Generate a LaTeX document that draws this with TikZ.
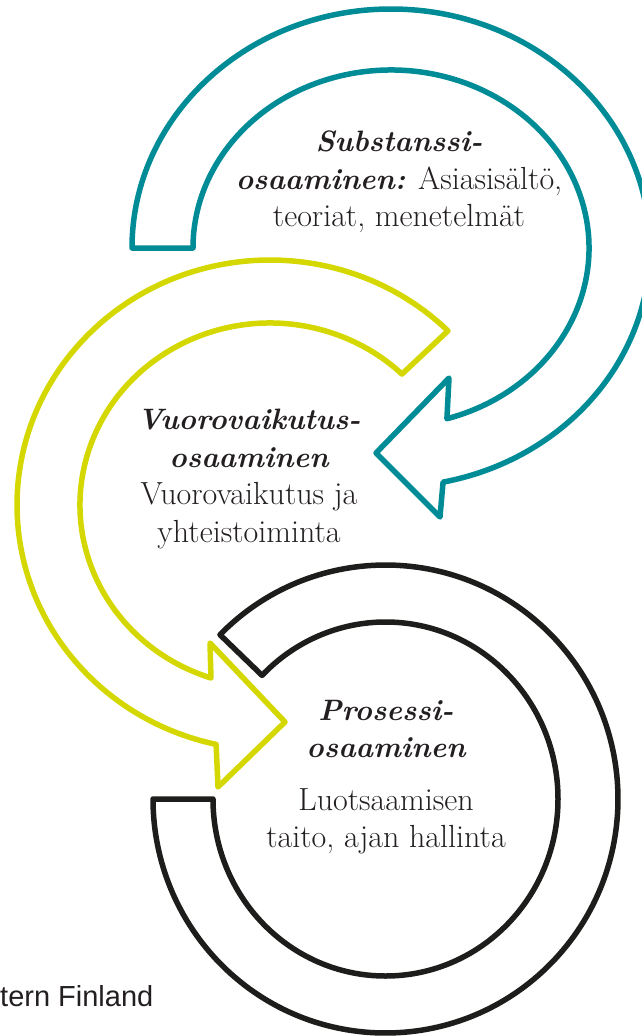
\documentclass[tikz,border=0pt]{standalone}
\usepackage{fontspec}
\newfontfamily\finsans{Liberation Sans}
\usetikzlibrary{calc}
\definecolor{arrowteal}{RGB}{0,140,150}
\definecolor{arrowlime}{RGB}{212,216,0}
\definecolor{ringblack}{RGB}{29,29,27}
\definecolor{inkgray}{RGB}{35,31,32}
\newcommand{\hdtext}[1]{{\fontsize{29.5}{37.5}\selectfont\bfseries\itshape #1}}

\begin{document}
\begin{tikzpicture}[x=1pt,y=1pt,
    ring/.style={line width=5.5pt,line join=round,fill=white},
    blocktext/.style={align=center,inner sep=0pt,text=inkgray,font=\fontsize{32}{37.5}\selectfont}]
    \useasboundingbox (0,0) rectangle (641,-1036);
    \coordinate (tc) at (391,-248);
    \coordinate (yc) at (270,-505);
    \coordinate (bc) at (385.5,-799);
    % teal arrow
    \draw[ring,draw=arrowteal] ($(tc)+(180:259 and 239)$) arc[start angle=180,end angle=-78.4,x radius=259,y radius=239]
        -- (440,-517) -- (376,-453) -- (449,-378)
        -- ($(tc)+(-73.6:198 and 178)$) arc[start angle=-73.6,end angle=180,x radius=198,y radius=178] -- cycle;
    % lime arrow
    \draw[ring,draw=arrowlime] ($(yc)+(45.3:253 and 245)$) arc[start angle=45.3,end angle=257.7,x radius=253,y radius=245]
        -- (218,-787) -- (285,-722) -- (210,-643)
        -- ($(yc)+(251.9:190 and 182)$) arc[start angle=251.9,end angle=46,x radius=190,y radius=182] -- cycle;
    % black ring
    \draw[ring,draw=ringblack] ($(bc)+(135.4:232.5 and 234)$) arc[start angle=135.4,end angle=-180,x radius=232.5,y radius=234]
        -- ($(bc)+(180:172.5 and 177)$) arc[start angle=-180,end angle=135.7,x radius=172.5,y radius=177] -- cycle;
    \node[blocktext] (subst) at (399,-182) {\hdtext{Substanssi-}\\\hdtext{osaaminen:} Asiasisältö,\\teoriat, menetelmät};
    \node[blocktext] (vuoro) at (249,-479) {\hdtext{Vuorovaikutus-}\\\hdtext{osaaminen}\\Vuorovaikutus ja\\yhteistoiminta};
    \node[blocktext] (prosessi) at (386,-777) {\hdtext{Prosessi-}\\\hdtext{osaaminen}\\[15pt]Luotsaamisen\\taito, ajan hallinta};
    \node[anchor=base west,inner sep=0pt,text=inkgray,font=\finsans\fontsize{29}{34}\selectfont] (source) at (0,-1006) {tern Finland};
\end{tikzpicture}
\end{document}
